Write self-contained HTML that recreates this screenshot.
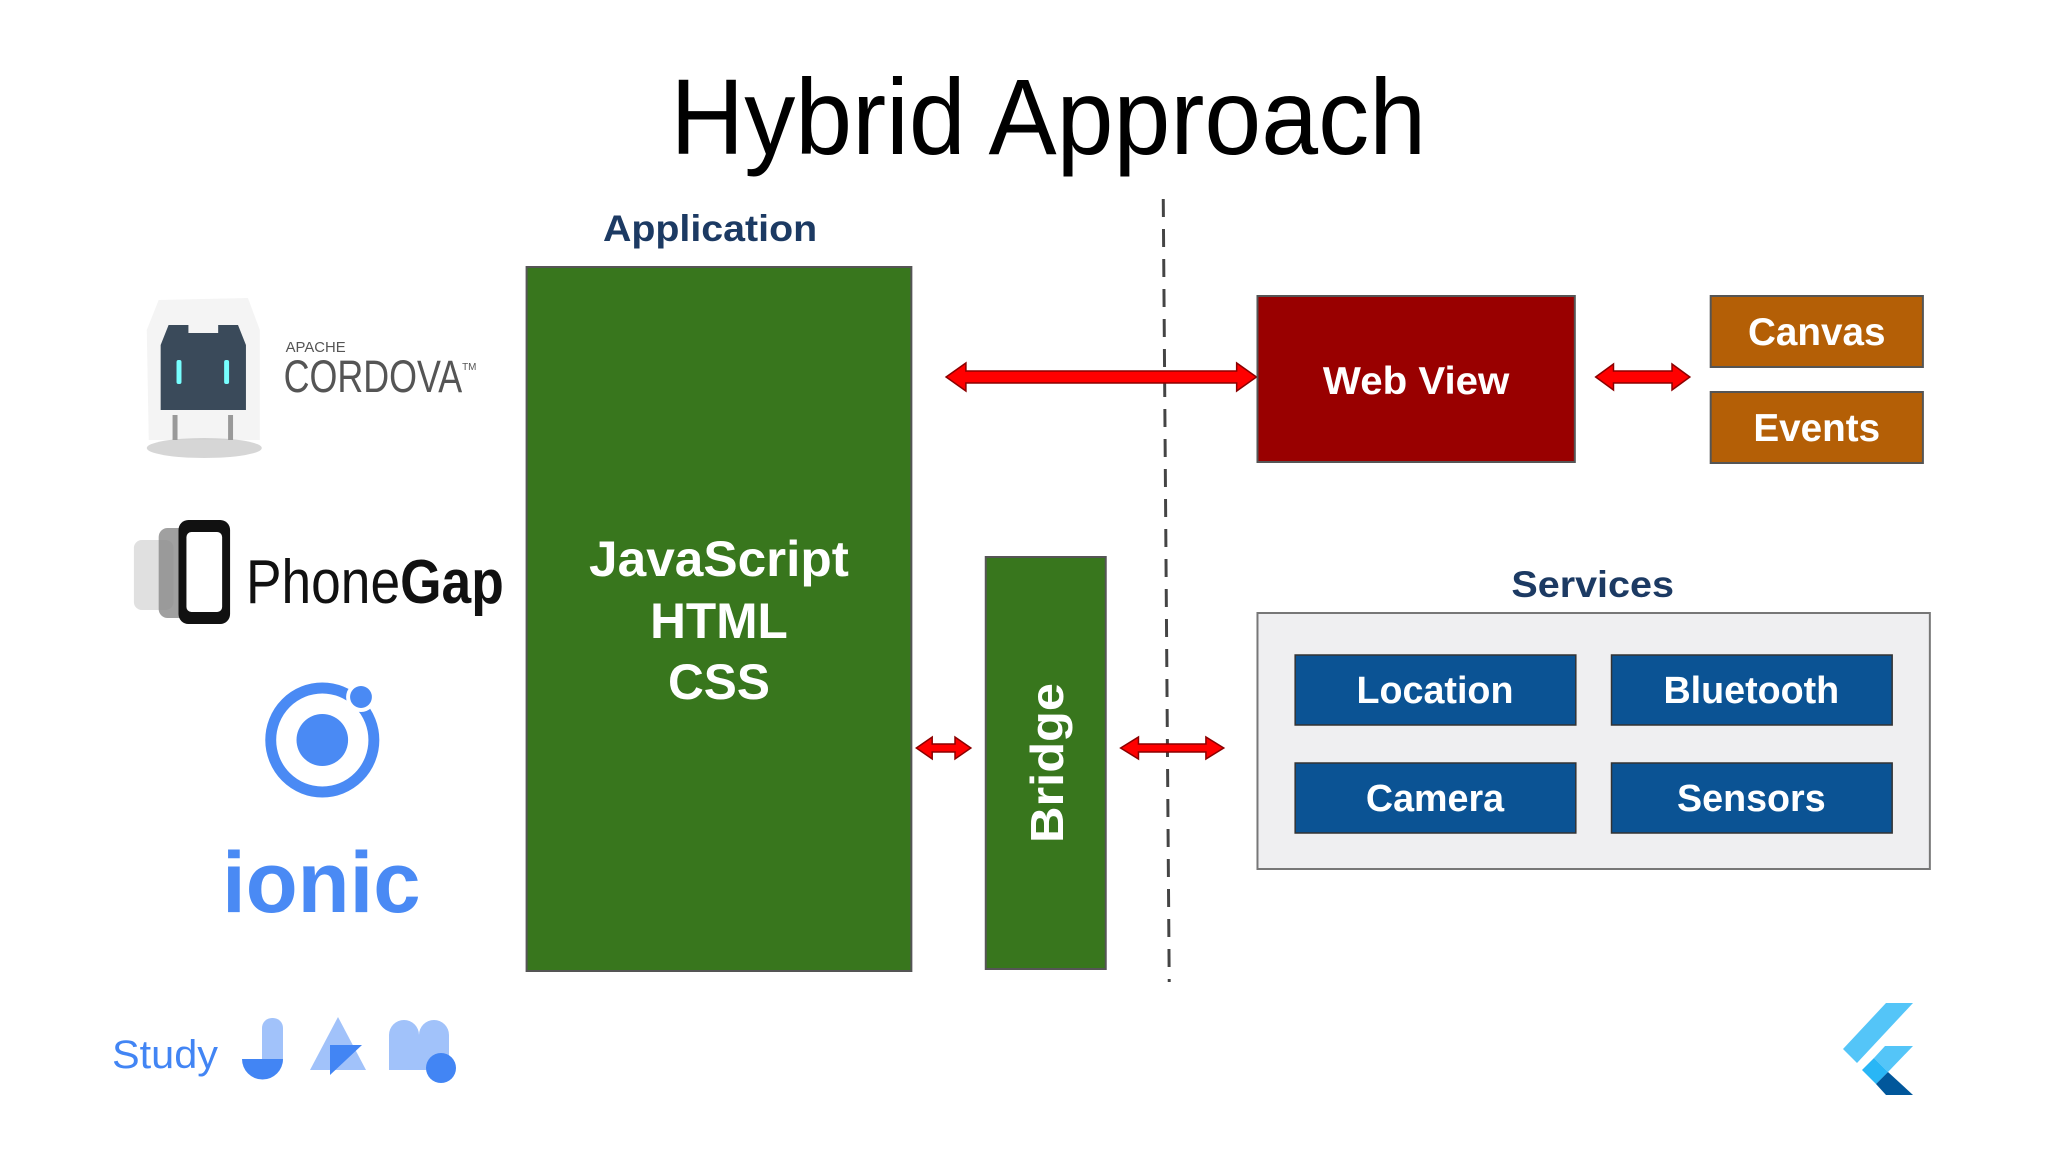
<!DOCTYPE html>
<html><head><meta charset="utf-8"><style>html,body{margin:0;padding:0;background:#fff}svg{display:block}</style></head>
<body>
<svg width="2048" height="1152" viewBox="0 0 2048 1152" xmlns="http://www.w3.org/2000/svg" font-family="Liberation Sans, Arial, sans-serif">
<rect width="2048" height="1152" fill="#fff"/>
<g transform="scale(0.9917,1)">
<text x="1057" y="154" font-size="108" text-anchor="middle" textLength="762" lengthAdjust="spacingAndGlyphs" fill="#000">Hybrid Approach</text>
<text x="716" y="241" font-size="37" font-weight="bold" fill="#1c3a63" text-anchor="middle" textLength="216" lengthAdjust="spacingAndGlyphs">Application</text>
<rect x="531" y="267" width="388" height="704" fill="#38761d" stroke="#555" stroke-width="2"/>
<g fill="#fff" font-weight="bold" font-size="50" text-anchor="middle">
<text x="725" y="576" textLength="262" lengthAdjust="spacingAndGlyphs">JavaScript</text>
<text x="725" y="638">HTML</text>
<text x="725" y="699">CSS</text>
</g>
<rect x="994" y="557" width="121" height="412" fill="#38761d" stroke="#555" stroke-width="2"/>
<text transform="translate(1072,763) rotate(-90)" fill="#fff" font-weight="bold" font-size="47" text-anchor="middle" textLength="160" lengthAdjust="spacingAndGlyphs">Bridge</text>
<line x1="1173" y1="199" x2="1179" y2="982" stroke="#444" stroke-width="3" stroke-dasharray="18,12"/>
<g fill="#ff0000" stroke="#8b0000" stroke-width="1.5">
<polygon points="954,377 974,363 974,371 1247,371 1247,363 1267,377 1247,391 1247,383 974,383 974,391"/>
<polygon points="1609,377 1627,364 1627,371 1686,371 1686,364 1704,377 1686,390 1686,383 1627,383 1627,390"/>
<polygon points="924,748 940,737 940,744 963,744 963,737 979,748 963,759 963,752 940,752 940,759"/>
<polygon points="1130,748 1148,737 1148,744 1216,744 1216,737 1234,748 1216,759 1216,752 1148,752 1148,759"/>
</g>
<rect x="1268" y="296" width="320" height="166" fill="#990000" stroke="#555" stroke-width="2"/>
<text x="1428" y="394" fill="#fff" font-weight="bold" font-size="39" text-anchor="middle" textLength="188" lengthAdjust="spacingAndGlyphs">Web View</text>
<rect x="1725" y="296" width="214" height="71" fill="#b45f06" stroke="#555" stroke-width="2"/>
<rect x="1725" y="392" width="214" height="71" fill="#b45f06" stroke="#555" stroke-width="2"/>
<g fill="#fff" font-weight="bold" font-size="39" text-anchor="middle">
<text x="1832" y="345">Canvas</text>
<text x="1832" y="441">Events</text>
</g>
<text x="1606" y="597" font-size="37" font-weight="bold" fill="#1c3a63" text-anchor="middle" textLength="164" lengthAdjust="spacingAndGlyphs">Services</text>
<rect x="1268" y="613" width="678" height="256" fill="#efeff1" stroke="#777" stroke-width="2"/>
<g fill="#0b5394" stroke="#333" stroke-width="1.5">
<rect x="1306" y="655" width="283" height="70"/>
<rect x="1625" y="655" width="283" height="70"/>
<rect x="1306" y="763" width="283" height="70"/>
<rect x="1625" y="763" width="283" height="70"/>
</g>
<g fill="#fff" font-weight="bold" font-size="38" text-anchor="middle">
<text x="1447" y="703">Location</text>
<text x="1766" y="703">Bluetooth</text>
<text x="1447" y="811">Camera</text>
<text x="1766" y="811">Sensors</text>
</g>
<path d="M160 300 L250 298 L262 330 L262 440 L150 440 L148 330 Z" fill="#f4f4f4"/>
<ellipse cx="206" cy="448" rx="58" ry="10" fill="#bbb" opacity="0.6"/>
<path d="M170 325 L190 325 L190 333 L220 333 L220 325 L240 325 L248 345 L248 410 L162 410 L162 345 Z" fill="#3a4a5a"/>
<rect x="178" y="360" width="5" height="24" fill="#7ff" rx="2"/>
<rect x="226" y="360" width="5" height="24" fill="#7ff" rx="2"/>
<rect x="174" y="415" width="5" height="25" fill="#999"/><rect x="230" y="415" width="5" height="25" fill="#999"/>
<text x="288" y="352" font-size="15" fill="#555">APACHE</text>
<text x="286" y="392" font-size="45" fill="#555" textLength="180" lengthAdjust="spacingAndGlyphs">CORDOVA</text>
<text x="466" y="370" font-size="10" fill="#555">TM</text>
<rect x="135" y="540" width="40" height="70" rx="8" fill="#ccc" opacity="0.6"/>
<rect x="160" y="528" width="45" height="90" rx="9" fill="#888" opacity="0.8"/>
<rect x="180" y="520" width="52" height="104" rx="10" fill="#111"/>
<rect x="188" y="532" width="36" height="80" rx="5" fill="#fff"/>
<text x="248" y="603" font-size="62" fill="#111" textLength="260" lengthAdjust="spacingAndGlyphs">Phone<tspan font-weight="bold">Gap</tspan></text>
<circle cx="325" cy="740" r="52" fill="none" stroke="#4a8af4" stroke-width="11"/>
<circle cx="325" cy="740" r="26" fill="#4a8af4"/>
<circle cx="364" cy="697" r="15" fill="#fff"/>
<circle cx="364" cy="697" r="11" fill="#4a8af4"/>
<text x="324" y="912" font-size="86" font-weight="bold" fill="#4a8af4" text-anchor="middle" textLength="200" lengthAdjust="spacingAndGlyphs">ionic</text>
</g>
<text x="112" y="1068" font-size="40" fill="#4285f4" textLength="106" lengthAdjust="spacingAndGlyphs">Study</text>
<rect x="262" y="1018" width="21" height="52" rx="10" fill="#a1c2fa"/>
<path d="M242 1059 L283 1059 A20.5 20.5 0 0 1 242 1059 Z" fill="#4285f4"/>
<polygon points="338,1017 366,1070 310,1070" fill="#a1c2fa"/>
<polygon points="330,1045 362,1045 330,1075" fill="#4285f4"/>
<path d="M389 1070 L389 1035 A15 15 0 0 1 419 1035 A15 15 0 0 1 449 1035 L449 1070 Z" fill="#a1c2fa"/>
<circle cx="441" cy="1068" r="15" fill="#4285f4"/>
<polygon points="1886,1003 1913,1003 1857,1063 1843,1049" fill="#54c5f8"/>
<polygon points="1885,1046 1913,1046 1888,1072 1874,1058" fill="#54c5f8"/>
<polygon points="1862,1070 1874,1058 1888,1072 1876,1084" fill="#29b6f6"/>
<polygon points="1876,1084 1888,1072 1913,1095 1886,1095" fill="#01579b"/>
</svg>
</body></html>
